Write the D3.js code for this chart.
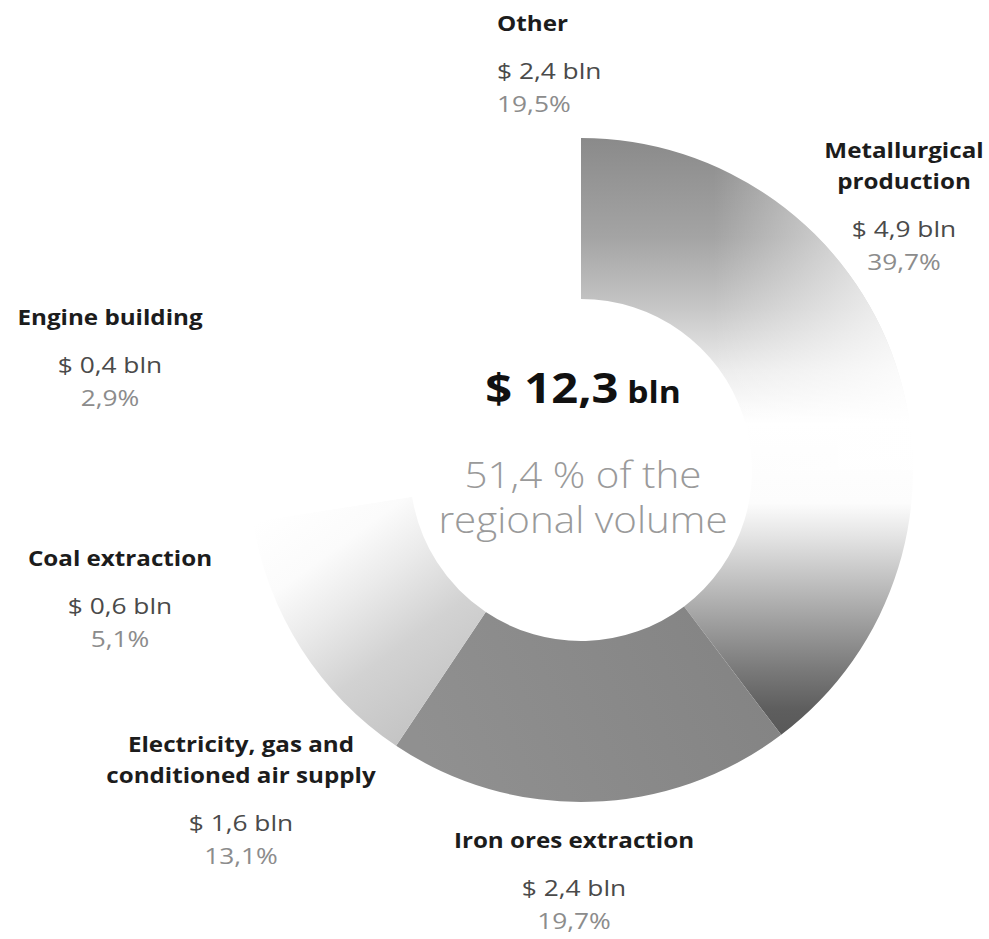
<!DOCTYPE html>
<html>
<head>
<meta charset="utf-8">
<script src="https://cdn.jsdelivr.net/npm/d3@7"></script>
<style>
  html, body { margin: 0; padding: 0; background: #ffffff; }
  svg { display: block; }
  text { font-family: "Open Sans", "Noto Sans", "DejaVu Sans", sans-serif; }
</style>
</head>
<body>
<svg id="chart" width="989" height="939"></svg>
<script>
// ---------------- data ----------------
const categories = [
  "Metallurgical production",
  "Iron ores extraction",
  "Electricity, gas and conditioned air supply",
  "Coal extraction",
  "Engine building",
  "Other"
];
const nameLines = [
  ["Metallurgical", "production"],
  ["Iron ores extraction"],
  ["Electricity, gas and", "conditioned air supply"],
  ["Coal extraction"],
  ["Engine building"],
  ["Other"]
];
const valuesBln = [4.9, 2.4, 1.6, 0.6, 0.4, 2.4];
const shares    = [39.7, 19.7, 13.1, 5.1, 2.9, 19.5];
const totalBln = 12.3;
const regionalShare = 51.4;
const centerLines = ["of the", "regional volume"];

// ---------------- layout ----------------
const W = 989, H = 939;
const cx = 581, cy = 470, R = 332, R0 = 171;

const loc = d3.formatLocale({ decimal: ",", thousands: " ", grouping: [3], currency: ["$", ""] });
const f1 = loc.format(".1f");

const svg = d3.select("#chart");
const defs = svg.append("defs");

function linGrad(id, x1, y1, x2, y2, stops) {
  const g = defs.append("linearGradient")
    .attr("id", id)
    .attr("gradientUnits", "userSpaceOnUse")
    .attr("x1", x1).attr("y1", y1).attr("x2", x2).attr("y2", y2);
  stops.forEach(s => g.append("stop")
    .attr("offset", s[0])
    .attr("stop-color", s[1])
    .attr("stop-opacity", s[2] === undefined ? 1 : s[2]));
}

// Metallurgical: dark at top, white at the right side, darkest at the bottom tip
linGrad("gMet", 0, -R, 0, R, [
  [0.00, "#8a8a8a"], [0.15, "#a4a4a4"], [0.25, "#c4c4c4"], [0.35, "#ececec"],
  [0.43, "#ffffff"], [0.55, "#fcfcfc"], [0.60, "#e4e4e4"], [0.66, "#c4c4c4"],
  [0.72, "#a4a4a4"], [0.80, "#7a7a7a"], [0.86, "#5e5e5e"], [1.00, "#4a4a4a"]
]);
linGrad("gMetFade", 0.4 * R, 0, R, 0, [
  [0, "#ffffff", 0], [1, "#ffffff", 0.8]
]);
linGrad("gIron", 0.55 * R, 0.45 * R, -0.45 * R, 0.9 * R, [
  [0, "#838383"], [1, "#909090"]
]);
linGrad("gElec", -0.35 * R, 0.85 * R, -0.9 * R, 0.1 * R, [
  [0, "#bcbcbc"], [0.4, "#d2d2d2"], [0.62, "#ebebeb"], [0.78, "#fbfbfb"], [1, "#ffffff"]
]);
defs.append("clipPath").attr("id", "topHalf")
  .append("rect").attr("x", -W).attr("y", -H).attr("width", 2 * W).attr("height", H);

const fills = ["url(#gMet)", "url(#gIron)", "url(#gElec)", "#ffffff", "#ffffff", "#ffffff"];

const data = categories.map((c, i) => ({
  name: c, lines: nameLines[i], bln: valuesBln[i], share: shares[i], idx: i
}));

const pie = d3.pie().sort(null).value(d => d.share).startAngle(0).endAngle(2 * Math.PI);
const arc = d3.arc().innerRadius(R0).outerRadius(R);
const arcs = pie(data);

const gDonut = svg.append("g").attr("transform", `translate(${cx},${cy})`);
gDonut.selectAll("path.slice")
  .data(arcs)
  .join("path")
  .attr("class", "slice")
  .attr("d", arc)
  .attr("fill", d => fills[d.data.idx]);

// lighten the upper-right end of the first slice
gDonut.append("path")
  .attr("d", arc(arcs[0]))
  .attr("fill", "url(#gMetFade)")
  .attr("clip-path", "url(#topHalf)");

// ---------------- labels ----------------
const labelLayout = [
  { x: 904, y: 158, anchor: "middle" },
  { x: 574, y: 848, anchor: "middle" },
  { x: 241, y: 752, anchor: "middle" },
  { x: 120, y: 566, anchor: "middle" },
  { x: 110, y: 325, anchor: "middle" },
  { x: 497, y: 31,  anchor: "start" }
];
const gapName = 31, gapValue = 48, gapPct = 33;
const stretch = 1.1, numStretch = 1.14;

const gLabels = svg.append("g");
data.forEach((d, i) => {
  const L = labelLayout[i];
  const g = gLabels.append("g")
    .attr("transform", `translate(${L.x},${L.y}) scale(${stretch},1)`)
    .attr("text-anchor", L.anchor);
  let y = 0;
  d.lines.forEach((ln, k) => {
    if (k > 0) y += gapName;
    g.append("text").attr("x", 0).attr("y", y)
      .attr("font-size", 22).attr("font-weight", 700).attr("fill", "#1c1c1c")
      .text(ln);
  });
  y += gapValue;
  g.append("text").attr("x", 0).attr("y", y)
    .attr("transform", `scale(${numStretch},1)`)
    .attr("font-size", 21).attr("fill", "#4a4a4a")
    .text("$ " + f1(d.bln) + " bln");
  y += gapPct;
  g.append("text").attr("x", 0).attr("y", y)
    .attr("transform", `scale(${numStretch},1)`)
    .attr("font-size", 21).attr("fill", "#8c8c8c")
    .text(f1(d.share) + "%");
});

// ---------------- centre ----------------
const gC = svg.append("g")
  .attr("transform", `translate(${cx + 2},0) scale(1.12,1)`)
  .attr("text-anchor", "middle");
const t1 = gC.append("text").attr("x", 0).attr("y", 403)
  .attr("font-weight", 700).attr("fill", "#111111");
t1.append("tspan").attr("font-size", 42).text("$ " + f1(totalBln));
t1.append("tspan").attr("font-size", 30).text(" bln");
gC.append("text").attr("x", 0).attr("y", 488)
  .attr("font-size", 36).attr("font-weight", 300).attr("fill", "#9a9a9a")
  .text(f1(regionalShare) + " % " + centerLines[0]);
gC.append("text").attr("x", 0).attr("y", 533)
  .attr("font-size", 36).attr("font-weight", 300).attr("fill", "#9a9a9a")
  .text(centerLines[1]);
</script>
</body>
</html>
